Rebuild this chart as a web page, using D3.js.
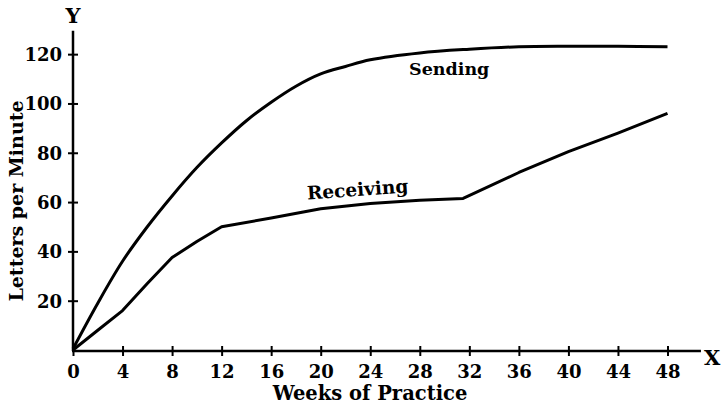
<!DOCTYPE html>
<html lang="en">
<head>
    <meta charset="UTF-8">
    <title>Letters per Minute</title>
    <script src="https://d3js.org/d3.v7.min.js"></script>
    <style>
        body { margin: 0; background: #fff; }
        text { font-family: "DejaVu Serif", serif; font-weight: bold; fill: #000; }
    </style>
</head>
<body>
    <script>
        // weeks of practice vs letters per minute
        const sendWeeks = [0, 2, 4, 6, 8, 10, 12, 14, 16, 18, 20, 22, 24, 28, 32, 36, 40, 44, 48];
        const sendValues = [0.5, 19, 36, 50, 62.5, 74, 84, 93, 100.5, 107, 112, 115, 117.7, 120.5, 122, 123, 123.2, 123.2, 123];
        const recvWeeks = [0, 2, 4, 6, 8, 10, 12, 16, 20, 24, 28, 31.5, 36, 40, 44, 48];
        const recvValues = [0, 8, 16, 27, 37.5, 44, 50, 53.5, 57.3, 59.4, 60.7, 61.5, 72, 80.5, 88, 96];
        const xTicks = [0, 4, 8, 12, 16, 20, 24, 28, 32, 36, 40, 44, 48];
        const yTicks = [20, 40, 60, 80, 100, 120];

        const width = 725;
        const height = 409;

        const x = d3.scaleLinear().domain([0, 48]).range([73, 667.5]);
        const y = d3.scaleLinear().domain([0, 130]).range([350, 29.5]);

        const svg = d3.select("body").append("svg")
            .attr("width", width)
            .attr("height", height);

        // axes
        const yAxis = svg.append("g")
            .attr("transform", `translate(${x(0)},0)`)
            .call(d3.axisLeft(y).tickValues(yTicks).tickSize(5).tickPadding(6));
        yAxis.select(".domain").remove();
        yAxis.selectAll(".tick line").attr("x1", -5).attr("x2", 5).attr("stroke-width", 2);
        yAxis.selectAll(".tick text").style("font-size", "18px").attr("dy", "0.36em");

        const xAxis = svg.append("g")
            .attr("transform", `translate(0,${y(0) + 1})`)
            .call(d3.axisBottom(x).tickValues(xTicks).tickSize(5).tickPadding(9));
        xAxis.select(".domain").remove();
        xAxis.selectAll(".tick line").attr("y1", -5).attr("y2", 5).attr("stroke-width", 2);
        xAxis.selectAll(".tick text").style("font-size", "18px");

        svg.append("line")
            .attr("x1", x(0)).attr("x2", x(0))
            .attr("y1", y(0) + 1).attr("y2", y(129.5))
            .attr("stroke", "#000").attr("stroke-width", 2.5);
        svg.append("line")
            .attr("x1", x(0) - 1).attr("x2", x(50.7))
            .attr("y1", y(0) + 1).attr("y2", y(0) + 1)
            .attr("stroke", "#000").attr("stroke-width", 2.5);

        svg.append("text")
            .attr("x", x(0)).attr("y", 23)
            .attr("text-anchor", "middle")
            .style("font-size", "21px")
            .text("Y");
        svg.append("text")
            .attr("x", x(51.6)).attr("y", 365)
            .attr("text-anchor", "middle")
            .style("font-size", "21px")
            .text("X");

        svg.append("text")
            .attr("x", 370).attr("y", 400)
            .attr("text-anchor", "middle")
            .style("font-size", "19.5px")
            .text("Weeks of Practice");
        svg.append("text")
            .attr("transform", "translate(23,201) rotate(-90)")
            .attr("text-anchor", "middle")
            .style("font-size", "19px")
            .text("Letters per Minute");

        // curves
        const sendLine = d3.line()
            .x((d, i) => x(sendWeeks[i]))
            .y(d => y(d))
            .curve(d3.curveCatmullRom.alpha(0.5));
        const recvLine = d3.line()
            .x((d, i) => x(recvWeeks[i]))
            .y(d => y(d));

        svg.append("path")
            .attr("d", sendLine(sendValues))
            .attr("fill", "none").attr("stroke", "#000").attr("stroke-width", 3);
        svg.append("path")
            .attr("d", recvLine(recvValues))
            .attr("fill", "none").attr("stroke", "#000").attr("stroke-width", 3)
            .attr("stroke-linejoin", "round");

        svg.append("text")
            .attr("x", 409).attr("y", 75)
            .style("font-size", "17.5px")
            .text("Sending");
        svg.append("text")
            .attr("transform", "translate(358,196) rotate(-4)")
            .attr("text-anchor", "middle")
            .style("font-size", "18.5px")
            .text("Receiving");
    </script>
</body>
</html>
